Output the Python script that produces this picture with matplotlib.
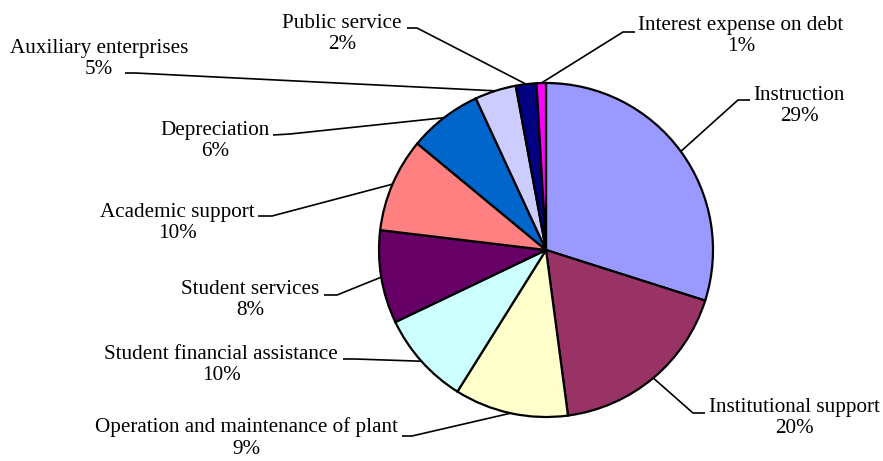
import numpy as np
import matplotlib.pyplot as plt

# slice sizes as drawn (percent of the circle), printed labels kept as shown
categories = ["Instruction", "Institutional support",
              "Operation and maintenance of plant", "Student financial assistance",
              "Student services", "Academic support", "Depreciation",
              "Auxiliary enterprises", "Public service", "Interest expense on debt"]
shares = [29.9, 18.0, 11.0, 9.0, 9.0, 9.1, 7.1, 4.0, 2.0, 0.9]
pct_labels = ["29%", "20%", "9%", "10%", "8%", "10%", "6%", "5%", "2%", "1%"]
colors = ["#9999FF", "#993366", "#FFFFCC", "#CCFFFF", "#660066",
          "#FF8080", "#0066CC", "#CCCCFF", "#000080", "#FF00FF"]

W, H = 883, 461
fig = plt.figure(figsize=(W / 100, H / 100), dpi=100)
ax = fig.add_axes([0, 0, 1, 1])

cx, cy, r = 546, H - 250, 167
wedges, _ = ax.pie(shares, colors=colors, startangle=90, counterclock=False,
                   center=(cx, cy), radius=r,
                   wedgeprops=dict(edgecolor="black", linewidth=1.6))
ax.set_xlim(0, W)
ax.set_ylim(0, H)
ax.set_aspect("auto")
ax.axis("off")

# label placement in pixels from top-left: text centre, elbow, end of the short tick
placement = [
    ((799, 106), (738, 100), (750, 100)),
    ((794, 418), (693, 413), (705, 413)),
    ((246, 438), (412, 436), (402, 436)),
    ((221, 365), (355, 359), (343, 359)),
    ((250, 300), (337, 295), (324, 295)),
    ((177, 223), (272, 216), (258, 216)),
    ((215, 141), (290, 134), (273, 135)),
    ((99, 59), (135, 73), (125, 73)),
    ((342, 34), (417, 28), (407, 28)),
    ((741, 36), (623, 32), (635, 32)),
]

for w, name, pct, (txt, elb, end) in zip(wedges, categories, pct_labels, placement):
    mid = np.deg2rad((w.theta1 + w.theta2) / 2)
    px = cx + r * np.cos(mid)
    py = cy + r * np.sin(mid)
    ax.plot([px, elb[0], end[0]], [py, H - elb[1], H - end[1]],
            color="black", lw=1.2, solid_capstyle="butt")
    ax.text(txt[0], H - txt[1], name + "\n" + pct, ha="center", va="center",
            multialignment="center", fontsize=15.2, family="Liberation Serif",
            linespacing=1.2)

fig.savefig("out.png", dpi=100)
